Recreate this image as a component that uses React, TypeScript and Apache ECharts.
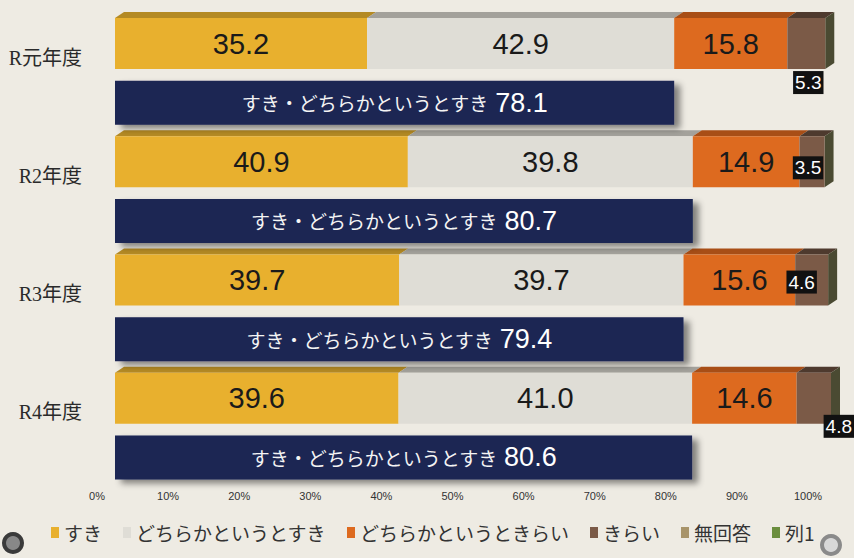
import React, { useEffect, useRef } from "react";
import * as echarts from "echarts";

// ---- data ----
const years = ["R元年度", "R2年度", "R3年度", "R4年度"];
const suki = [35.2, 40.9, 39.7, 39.6];
const dochiraSuki = [42.9, 39.8, 39.7, 41.0];
const dochiraKirai = [15.8, 14.9, 15.6, 14.6];
const kirai = [5.3, 3.5, 4.6, 4.8];
const mukaitou = [0, 0, 0, 0];
const retsu1 = [0, 0, 0, 0];
const sukiTotal = [78.1, 80.7, 79.4, 80.6];
const seriesNames = ["すき", "どちらかというとすき", "どちらかというときらい", "きらい", "無回答", "列1"];
const totalLabel = "すき・どちらかというとすき";

// ---- styles ----
const BG = "#EEEBE3";
const colors = ["#E8B02E", "#DFDDD6", "#DD6A1F", "#7B5A47", "#A8946A", "#6B8E3E"];
const topColors = ["#B48A24", "#A3A19B", "#A84E16", "#4E3A2E", "#7A6A48", "#4C5E2C"];
const NAVY = "#1B2553";
const kiraiLabelOffsets = [[2, 39], [-4, 6], [-10, 2], [25, 28]];
const STACK_BAR = 51;
const NAVY_BAR = 44;
const DX = 9;
const DY = 6;

const rows = years.flatMap((y) => [y, y + "計"]);
const onStackRows = (arr: number[]) => rows.map((_, i) => (i % 2 === 0 ? arr[i / 2] : "-"));
const onTotalRows = (arr: number[]) => rows.map((_, i) => (i % 2 === 1 ? arr[(i - 1) / 2] : "-"));

export default function App() {
  const ref = useRef<HTMLDivElement>(null);
  useEffect(() => {
    document.body.style.margin = "0";
    document.body.style.background = BG;
    const chart = echarts.init(ref.current!, null, { renderer: "svg" });
    const numFont = "'Liberation Sans Narrow', 'Liberation Sans', Arial, sans-serif";
    const allSeries = [suki, dochiraSuki, dochiraKirai, kirai, mukaitou, retsu1];

    // 3D top faces built from the data
    const faceData: number[][] = [];
    years.forEach((_, yi) => {
      let acc = 0;
      let lastK = 0;
      allSeries.forEach((arr, k) => {
        if (arr[yi] > 0) lastK = k;
      });
      allSeries.forEach((arr, k) => {
        const v = arr[yi];
        if (v > 0) {
          faceData.push([acc, acc + v, yi * 2, k, k === lastK ? 1 : 0]);
        }
        acc += v;
      });
    });

    const barSeries: any[] = seriesNames.map((name, k) => ({
      name,
      type: "bar",
      stack: "s",
      xAxisIndex: 0,
      yAxisIndex: 0,
      barWidth: STACK_BAR,
      itemStyle: { color: colors[k] },
      data: onStackRows(allSeries[k]).map((v, i) => {
        if (k === 3 && v !== "-") {
          const yi = i / 2;
          return {
            value: v,
            label: {
              show: true,
              position: "inside",
              offset: kiraiLabelOffsets[yi],
              backgroundColor: "#111",
              color: "#fff",
              fontSize: 19,
              fontFamily: numFont,
              padding: [3, 2, 1, 2],
              formatter: (p: any) => Number(p.value).toFixed(1),
            },
          };
        }
        return v;
      }),
      label:
        k < 3
          ? {
              show: true,
              position: "inside",
              color: "#1a1a1a",
              fontSize: 29,
              fontFamily: numFont,
              formatter: (p: any) => Number(p.value).toFixed(1),
            }
          : { show: false },
    }));

    const option: any = {
      animation: false,
      backgroundColor: BG,
      grid: [
        { left: 115, right: 23, top: 14, bottom: 71 },
        { left: 97, right: 46, top: 14, bottom: 71 },
      ],
      legend: {
        data: seriesNames,
        left: 46,
        top: 518,
        itemWidth: 8,
        itemHeight: 11,
        itemGap: 21,
        icon: "rect",
        textStyle: { fontSize: 19, color: "#333", fontFamily: "'Noto Sans CJK JP', sans-serif" },
      },
      xAxis: [
        { type: "value", min: 0, max: 100, show: false, gridIndex: 0 },
        {
          type: "value",
          gridIndex: 1,
          min: 0,
          max: 100,
          interval: 10,
          axisLine: { show: false },
          axisTick: { show: false },
          splitLine: { show: false },
          axisLabel: {
            formatter: "{value}%",
            fontSize: 11,
            color: "#333",
            margin: 3,
            fontFamily: numFont,
          },
        },
      ],
      yAxis: [
        {
          type: "category",
          data: rows,
          inverse: true,
          gridIndex: 0,
          axisLine: { show: false },
          axisTick: { show: false },
          axisLabel: {
            margin: 33,
            fontSize: 20,
            color: "#2a2a2a",
            fontFamily: "'Liberation Serif', 'Noto Sans CJK JP', serif",
            verticalAlign: "top",
            lineHeight: 28,
            formatter: (v: string, i: number) => (i % 2 === 0 ? v : ""),
          },
        },
        { type: "category", data: rows, inverse: true, gridIndex: 0, show: false },
        { type: "category", data: rows, inverse: true, gridIndex: 1, show: false },
      ],
      series: [
        ...barSeries,
        {
          name: "すき・どちらかというとすき計",
          type: "bar",
          xAxisIndex: 0,
          yAxisIndex: 1,
          barWidth: NAVY_BAR,
          data: onTotalRows(sukiTotal),
          itemStyle: {
            color: NAVY,
            shadowColor: "rgba(0,0,0,0.45)",
            shadowBlur: 6,
            shadowOffsetX: 6,
            shadowOffsetY: 4,
          },
          label: {
            show: true,
            position: "inside",
            formatter: (p: any) => `{t|${totalLabel}}  {v|${Number(p.value).toFixed(1)}}`,
            rich: {
              t: { fontSize: 19, color: "#f4f4f4", fontFamily: "'Noto Sans CJK JP', sans-serif" },
              v: { fontSize: 27, color: "#ffffff", fontFamily: numFont },
            },
          },
        },
        {
          type: "custom",
          xAxisIndex: 0,
          yAxisIndex: 0,
          silent: true,
          data: faceData,
          encode: { x: [0, 1], y: 2 },
          renderItem: (params: any, api: any) => {
            const s = api.value(0);
            const e = api.value(1);
            const c = api.value(2);
            const k = api.value(3);
            const last = api.value(4);
            const p0 = api.coord([s, c]);
            const p1 = api.coord([e, c]);
            const yTop = p0[1] - STACK_BAR / 2;
            const yBot = p0[1] + STACK_BAR / 2;
            const children: any[] = [
              {
                type: "polygon",
                shape: {
                  points: [
                    [p0[0], yTop],
                    [p1[0], yTop],
                    [p1[0] + DX, yTop - DY],
                    [p0[0] + DX, yTop - DY],
                  ],
                },
                style: { fill: topColors[k] },
              },
            ];
            if (last) {
              children.push({
                type: "polygon",
                shape: {
                  points: [
                    [p1[0], yTop],
                    [p1[0] + DX, yTop - DY],
                    [p1[0] + DX, yBot - DY],
                    [p1[0], yBot],
                  ],
                },
                style: { fill: "#4A4A32" },
              });
            }
            return { type: "group", children };
          },
        },
      ],
      graphic: [
        { type: "circle", left: 2, top: 532, shape: { r: 11 }, style: { fill: "#3a3a3a" } },
        { type: "circle", left: 6, top: 536, shape: { r: 7 }, style: { fill: "#888" } },
        { type: "circle", left: 820, top: 534, shape: { r: 11 }, style: { fill: "#8a8a8a" } },
        { type: "circle", left: 824, top: 538, shape: { r: 7 }, style: { fill: "#d8d8d8" } },
      ],
    };
    chart.setOption(option);
    return () => chart.dispose();
  }, []);
  return <div ref={ref} style={{ position: "fixed", left: 0, top: 0, width: 854, height: 558 }} />;
}
